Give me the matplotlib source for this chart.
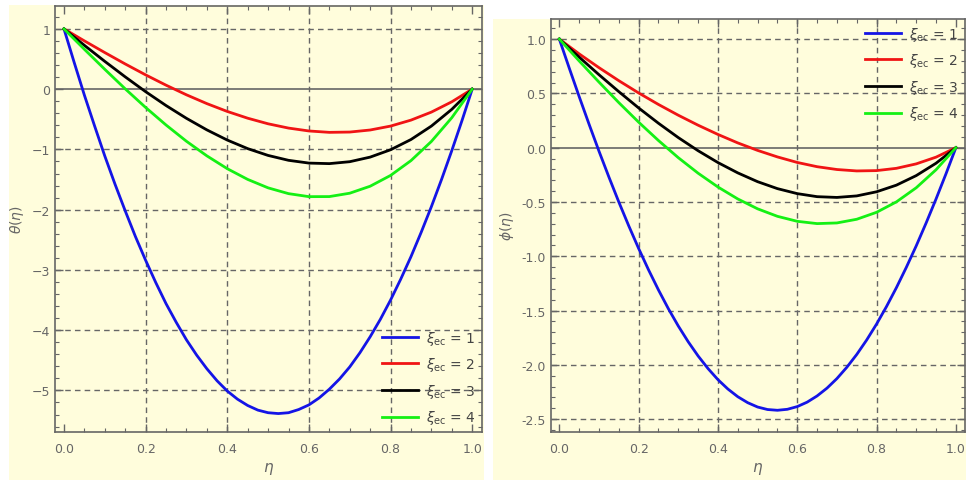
import numpy as np
import matplotlib
matplotlib.use("Agg")
import matplotlib.pyplot as plt
from matplotlib.patches import Rectangle
from matplotlib.ticker import MultipleLocator, FormatStrFormatter

# eta grids and curves
eta = [0.00, 0.05, 0.10, 0.15, 0.20, 0.25, 0.30, 0.35, 0.40, 0.45, 0.50,
       0.55, 0.60, 0.65, 0.70, 0.75, 0.80, 0.85, 0.90, 0.95, 1.00]
# the steep blue curves were read at a finer step
eta_fine = [0.000, 0.025, 0.050, 0.075, 0.100, 0.125, 0.150, 0.175, 0.200, 0.225,
            0.250, 0.275, 0.300, 0.325, 0.350, 0.375, 0.400, 0.425, 0.450, 0.475,
            0.500, 0.525, 0.550, 0.575, 0.600, 0.625, 0.650, 0.675, 0.700, 0.725,
            0.750, 0.775, 0.800, 0.825, 0.850, 0.875, 0.900, 0.925, 0.950, 0.975, 1.000]

theta_1 = [1.0, 0.443, -0.10, -0.611, -1.11, -1.577, -2.02, -2.446, -2.84, -3.212,
           -3.56, -3.870, -4.16, -4.414, -4.64, -4.840, -5.01, -5.145, -5.25, -5.327,
           -5.37, -5.384, -5.37, -5.317, -5.24, -5.125, -4.98, -4.810, -4.61, -4.374,
           -4.11, -3.820, -3.50, -3.152, -2.78, -2.376, -1.95, -1.497, -1.02, -0.521, 0.0]
theta_2 = [1.0, 0.801, 0.607, 0.418, 0.237, 0.066, -0.094, -0.240, -0.370, -0.482, -0.575,
           -0.646, -0.694, -0.717, -0.712, -0.678, -0.613, -0.514, -0.381, -0.210, 0.0]
theta_3 = [1.0, 0.727, 0.461, 0.204, -0.042, -0.272, -0.484, -0.676, -0.845, -0.987, -1.100,
           -1.181, -1.227, -1.236, -1.204, -1.128, -1.006, -0.836, -0.613, -0.335, 0.0]
theta_4 = [1.0, 0.661, 0.329, 0.005, -0.304, -0.595, -0.865, -1.107, -1.320, -1.498, -1.638,
           -1.734, -1.784, -1.783, -1.727, -1.611, -1.432, -1.186, -0.868, -0.474, 0.0]

phi_1 = [1.0, 0.733, 0.471, 0.216, -0.032, -0.270, -0.500, -0.719, -0.928, -1.125,
         -1.310, -1.483, -1.642, -1.787, -1.918, -2.034, -2.136, -2.222, -2.293, -2.348,
         -2.388, -2.411, -2.418, -2.409, -2.384, -2.343, -2.286, -2.214, -2.126, -2.022,
         -1.904, -1.771, -1.624, -1.463, -1.289, -1.102, -0.904, -0.693, -0.472, -0.241, 0.0]
phi_2 = [1.0, 0.864, 0.737, 0.617, 0.504, 0.398, 0.299, 0.207, 0.122, 0.044, -0.025,
         -0.085, -0.136, -0.175, -0.201, -0.214, -0.211, -0.190, -0.149, -0.087, 0.0]
phi_3 = [1.0, 0.834, 0.672, 0.516, 0.366, 0.225, 0.093, -0.028, -0.137, -0.232, -0.313,
         -0.377, -0.423, -0.451, -0.458, -0.444, -0.406, -0.345, -0.257, -0.143, 0.0]
phi_4 = [1.0, 0.799, 0.604, 0.415, 0.235, 0.066, -0.092, -0.235, -0.362, -0.472, -0.563,
         -0.632, -0.678, -0.699, -0.693, -0.659, -0.595, -0.499, -0.369, -0.203, 0.0]

xi_vals = [1, 2, 3, 4]
colors = ['#1414E6', '#F01414', '#000000', '#14F014']

cream = '#FFFDDC'
gray = '#666666'

W, H = 966, 481
fig = plt.figure(figsize=(W / 100, H / 100), dpi=100, facecolor='white')


# panel backgrounds (pixel boxes -> figure fractions)
def px_rect(x0, y0, x1, y1):
    return Rectangle((x0 / W, 1 - y1 / H), (x1 - x0) / W, (y1 - y0) / H,
                     transform=fig.transFigure, facecolor=cream, edgecolor='none', zorder=-10)


fig.patches.append(px_rect(9, 6, 484, 481))
fig.patches.append(px_rect(493, 20, 966, 481))


def px_axes(x0, y0, x1, y1):
    return fig.add_axes([x0 / W, 1 - y1 / H, (x1 - x0) / W, (y1 - y0) / H])


def style(ax, xlim, ylim, ymaj, ymin, ygrid):
    ax.set_facecolor(cream)
    ax.set_xlim(*xlim)
    ax.set_ylim(*ylim)
    ax.xaxis.set_major_locator(MultipleLocator(0.2))
    ax.xaxis.set_minor_locator(MultipleLocator(0.05))
    ax.yaxis.set_major_locator(MultipleLocator(ymaj))
    ax.yaxis.set_minor_locator(MultipleLocator(ymin))
    ax.tick_params(which='both', direction='in', top=True, right=True, colors=gray,
                   labelcolor=gray, labelsize=9)
    ax.tick_params(which='major', length=6, width=1)
    ax.tick_params(which='minor', length=3, width=0.8)
    ax.tick_params(axis='x', pad=7)
    for s in ax.spines.values():
        s.set_color(gray)
        s.set_linewidth(1.2)
    for xv in [0.2, 0.4, 0.6, 0.8]:
        ax.axvline(xv, color=gray, ls=(0, (4, 3)), lw=1, zorder=1)
    for yv in ygrid:
        ax.axhline(yv, color=gray, ls=(0, (4, 3)), lw=1, zorder=1)
    ax.axhline(0, color=gray, lw=1.2, zorder=1)


def legend(ax, loc):
    leg = ax.legend(loc=loc, frameon=False, fontsize=10, handlelength=2.6,
                    labelspacing=0.62, borderaxespad=0.0, handletextpad=0.6)
    for t in leg.get_texts():
        t.set_color('#444444')


# left panel: theta
ax1 = px_axes(55, 7, 482, 433)
style(ax1, (-0.022, 1.024), (-5.69, 1.38), 1, 0.2, [1, -1, -2, -3, -4, -5])
for xi, xs, ys, c in zip(xi_vals, [eta_fine, eta, eta, eta],
                         [theta_1, theta_2, theta_3, theta_4], colors):
    ax1.plot(xs, ys, color=c, lw=2, label=r'$\xi_{\rm ec}$ = %d' % xi, zorder=3)
ax1.set_xlabel(r'$\eta$', color=gray, fontsize=11, labelpad=4)
ax1.set_ylabel(r'$\theta(\eta)$', color=gray, fontsize=10, labelpad=4)
legend(ax1, 'lower right')

# right panel: phi
ax2 = px_axes(551, 20, 965, 433)
style(ax2, (-0.021, 1.023), (-2.618, 1.185), 0.5, 0.1,
      [1.0, 0.5, -0.5, -1.0, -1.5, -2.0, -2.5])
ax2.yaxis.set_major_formatter(FormatStrFormatter('%.1f'))
for xi, xs, ys, c in zip(xi_vals, [eta_fine, eta, eta, eta],
                         [phi_1, phi_2, phi_3, phi_4], colors):
    ax2.plot(xs, ys, color=c, lw=2, label=r'$\xi_{\rm ec}$ = %d' % xi, zorder=3)
ax2.set_xlabel(r'$\eta$', color=gray, fontsize=11, labelpad=4)
ax2.set_ylabel(r'$\phi(\eta)$', color=gray, fontsize=10, labelpad=4)
legend(ax2, 'upper right')

fig.savefig('out.png', dpi=100, facecolor='white')
